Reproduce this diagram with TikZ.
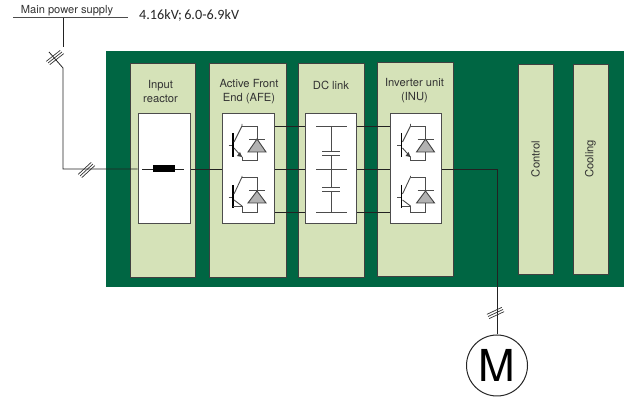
\documentclass[tikz,border=0pt]{standalone}
\usepackage{fontspec}
\usetikzlibrary{calc}
\setmainfont{TeX Gyre Heros}
\newfontfamily\volt{Carlito}
\definecolor{drivegreen}{HTML}{006643}
\definecolor{panelgreen}{HTML}{D5E2B8}
\definecolor{wire}{HTML}{222222}
\tikzset{
  panel/.style={draw=black!75,fill=panelgreen,line width=.9pt},
  whitebox/.style={draw=black!70,fill=white,line width=1pt},
  wireline/.style={draw=wire,line width=.8pt},
  thinwire/.style={draw=black!70,line width=.9pt},
  captext/.style={font=\fontsize{11.2}{14}\selectfont,align=center,text=black!80,inner sep=0},
  hatchline/.style={draw=black!80,line width=.7pt},
  pics/igbt/.style={code={
    \draw[thinwire] (-1.5,0) -- (3,0);
    \draw[draw=black,line width=1.9pt] (3,-12) -- (3,12);
    \draw[thinwire] (4,-3) -- (12,-19) -- (12,-21);
    \draw[thinwire] (12,-19) -- (27,-19) -- (27,15) -- (12,15) -- (12,12);
    \draw[thinwire] (4,3) -- (12,12);
    \fill[black!75] (12,12) -- (7,11) -- (10,7) -- cycle;
    \draw[fill=black!30,draw=black!75,line width=.9pt] (27,-6) -- (36,7) -- (18,7) -- cycle;
    \draw[thinwire] (19,-6) -- (35,-6);
  }},
  pics/igbtlow/.style={code={
    \draw[thinwire] (-1.5,0) -- (3,0);
    \draw[draw=black,line width=1.9pt] (3,-12) -- (3,11);
    \draw[thinwire] (4,-3) -- (12,-20) -- (12,-21);
    \draw[thinwire] (12,-20) -- (27,-20) -- (27,15) -- (12,15) -- (12,9);
    \draw[thinwire] (4,3) -- (12,9);
    \draw[thinwire] (3,9.5) -- (12,9.5);
    \draw[fill=black!30,draw=black!75,line width=.9pt] (27,-6) -- (36,6) -- (18,6) -- cycle;
    \draw[thinwire] (19,-7) -- (35,-7);
  }}
}
\begin{document}
\begin{tikzpicture}[x=1pt,y=-1pt]
\useasboundingbox (0,0) rectangle (625,398);
\fill[drivegreen] (106,51) rectangle (624,287);

\node[panel,minimum width=65pt,minimum height=214pt,inner sep=0,anchor=north west] (pin) at (130,63) {};
\node[panel,minimum width=77pt,minimum height=214pt,inner sep=0,anchor=north west] (pafe) at (209,63) {};
\node[panel,minimum width=66pt,minimum height=214pt,inner sep=0,anchor=north west] (pdc) at (298,63) {};
\node[panel,minimum width=76pt,minimum height=214pt,inner sep=0,anchor=north west] (pinu) at (377,62) {};
\node[panel,minimum width=35pt,minimum height=210pt,inner sep=0,anchor=north west] (pctl) at (518,64) {};
\node[panel,minimum width=35pt,minimum height=210pt,inner sep=0,anchor=north west] (pcool) at (573,64) {};

\node[whitebox,minimum width=52pt,minimum height=110pt,inner sep=0,anchor=north west] (bin) at (137.5,113.5) {};
\node[whitebox,minimum width=52pt,minimum height=110pt,inner sep=0,anchor=north west] (bafe) at (222,113.5) {};
\node[whitebox,minimum width=51pt,minimum height=110pt,inner sep=0,anchor=north west] (bdc) at (305,113.5) {};
\node[whitebox,minimum width=51pt,minimum height=110pt,inner sep=0,anchor=north west] (binu) at (390,113.5) {};

\node[captext] (tin) at (160.5,92) {Input\\reactor};
\node[captext] (tafe) at (249,92) {Active Front\\End (AFE)};
\node[captext] (tdc) at (331,85) {DC link};
\node[captext] (tinu) at (414.5,90.5) {Inverter unit\\(INU)};
\node[captext,rotate=90] (tctl) at (535.5,159) {Control};
\node[captext,rotate=90] (tcool) at (590.5,159) {Cooling};

\node[font=\fontsize{11.1}{13}\selectfont,text=black!80,inner sep=0] (tmain) at (67,11) {Main power supply};
\node[font=\volt\fontsize{14.2}{15}\selectfont,text=black!85,inner sep=0,anchor=west] (tkv) at (139,15) {4.16kV;\,6.0-6.9kV};

% coordinates
\coordinate (busl) at (13,18);
\coordinate (busr) at (128,18);
\coordinate (drop) at (63,18);
\coordinate (swt) at (63,47);
\coordinate (swa) at (49,52);
\coordinate (swb) at (63,68);
\coordinate (corner) at (63,169);
\coordinate (r1) at (142,169);
\coordinate (r2) at (184,169);
\coordinate (up) at (0,126);
\coordinate (mid) at (0,169);
\coordinate (low) at (0,212);
\coordinate (turn) at (497,169);

\draw[draw=black!70,line width=1pt] (busl) -- (busr);
\draw[wireline] (drop) -- (swt);
\draw[wireline] (swa) -- (swb) -- (corner) -- (bin.west |- mid);
\draw[wireline] (r1) -- (r2);
\node[fill=black,minimum width=22pt,minimum height=7pt,inner sep=0] (choke) at (163.5,169) {};
\draw[wireline] (bin.east |- mid) -- (bafe.west |- mid);
\foreach \y in {up,mid,low} {
  \draw[wireline] (bafe.east |- \y) -- (bdc.west |- \y);
  \draw[wireline] (bdc.east |- \y) -- (binu.west |- \y);
}
\node[circle,draw=black!85,line width=1pt,fill=white,minimum size=61pt,inner sep=0] (motor) at (497,365.5) {\fontsize{44}{44}\selectfont M};
\draw[wireline] (binu.east |- mid) -- (turn) -- (motor.north);

% hatches
\foreach \d in {-1.8,0,1.8} {
  \draw[hatchline] ($(48,63)+(\d,\d*.9)$) -- ($(62,52)+(\d,\d*.9)$);
  \draw[hatchline] ($(80,176)+(\d,\d*.9)$) -- ($(93,164)+(\d,\d*.9)$);
  \draw[hatchline] ($(488,316.5)+(.6*\d,1.2*\d)$) -- ($(503,309.5)+(.6*\d,1.2*\d)$);
}

% DC link capacitors
\draw[thinwire] (316,126) -- (347,126) (316,169) -- (347,169) (316,212) -- (347,212);
\draw[thinwire] (331,126) -- (331,151) (331,155) -- (331,187) (331,191) -- (331,212);
\draw[thinwire] (322,151) -- (340,151) (322,155) -- (340,155);
\draw[thinwire] (322,187) -- (340,187) (322,191) -- (340,191);

% IGBT modules
\pic at (230,145) {igbt};
\pic at (230,197) {igbtlow};
\pic at (398.5,145) {igbt};
\pic at (398.5,197) {igbtlow};
\end{tikzpicture}
\end{document}
